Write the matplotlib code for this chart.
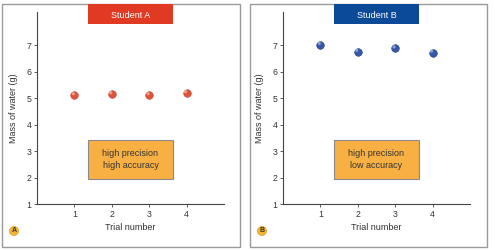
import matplotlib
matplotlib.use("Agg")
import matplotlib.pyplot as plt
from matplotlib.patches import Rectangle, Ellipse
from matplotlib.transforms import offset_copy

plt.rcParams['font.family'] = ['Liberation Sans', 'DejaVu Sans']

trials = [1, 2, 3, 4]
mass_a = [5.11, 5.15, 5.11, 5.19]
mass_b = [7.01, 6.75, 6.88, 6.72]
y_ticks = [1, 2, 3, 4, 5, 6, 7]
titles = ["Student A", "Student B"]
notes = ["high precision\nhigh accuracy", "high precision\nlow accuracy"]
letters = ["A", "B"]

W, H = 495, 250
fig = plt.figure(figsize=(W / 100, H / 100), dpi=100)
fig.patch.set_facecolor("white")

def fx(x):
    return x / W

def fy(y):
    return 1 - y / H

panels = [
    dict(box=(2, 4, 240, 247), ax=(37, 12, 224, 204), data=mass_a,
         color="#e0553a", edge="#c04028", hl="#f7b09a", tcolor="#e03a22"),
    dict(box=(250, 4, 487, 247), ax=(283, 12, 470, 204), data=mass_b,
         color="#3558a8", edge="#1e3a7a", hl="#9ab2e0", tcolor="#0b4a96"),
]

for i, p in enumerate(panels):
    x0, y0, x1, y1 = p["box"]
    fig.patches.append(Rectangle((fx(x0), fy(y1)), fx(x1 - x0), (y1 - y0) / H,
                                 transform=fig.transFigure, fill=False,
                                 edgecolor="#9a9a9a", lw=1.0, zorder=0))
    ax0, ay0, ax1, ay1 = p["ax"]
    ax = fig.add_axes([fx(ax0), fy(ay1), fx(ax1 - ax0), (ay1 - ay0) / H])
    ax.set_xlim(0, 5)
    ax.set_ylim(1, 8.25)
    ax.scatter(trials, p["data"], s=30, color=p["color"], edgecolors=p["edge"],
               linewidths=0.4, zorder=3)
    hl_tr = offset_copy(ax.transData, fig=fig, x=-0.8, y=1.0, units="points")
    ax.scatter(trials, p["data"], s=5, color=p["hl"], edgecolors="none",
               zorder=4, alpha=0.85, transform=hl_tr)
    ax.set_xticks(trials)
    ax.set_yticks(y_ticks)
    ax.tick_params(labelsize=6.3, length=2, width=0.6, color="#444444",
                   labelcolor="#333333", pad=2)
    for s in ["top", "right"]:
        ax.spines[s].set_visible(False)
    for s in ["left", "bottom"]:
        ax.spines[s].set_color("#444444")
        ax.spines[s].set_linewidth(0.8)
    ax.set_xlabel("Trial number", fontsize=6.5, color="#333333", labelpad=3)
    ax.set_ylabel("Mass of water (g)", fontsize=6.5, color="#333333", labelpad=6)
    ax.patch.set_alpha(0)

    # title box
    tx0 = ax0 + 51
    fig.patches.append(Rectangle((fx(tx0), fy(24)), fx(85), 20 / H,
                                 transform=fig.transFigure, facecolor=p["tcolor"],
                                 edgecolor="none", zorder=2))
    fig.text(fx(tx0 + 42.5), fy(15), titles[i], color="white", fontsize=6.5,
             ha="center", va="center")

    # note box
    fig.patches.append(Rectangle((fx(tx0), fy(179)), fx(85), 39 / H,
                                 transform=fig.transFigure, facecolor="#f9b043",
                                 edgecolor="#8a8a8a", lw=0.8, zorder=2))
    fig.text(fx(tx0 + 42.5), fy(159.5), notes[i], color="#333333", fontsize=6.5,
             ha="center", va="center", linespacing=1.4, zorder=3)

    # letter circle
    cx = x0 + 12
    fig.patches.append(Ellipse((fx(cx), fy(231)), 9 / W, 9 / H,
                               transform=fig.transFigure,
                               facecolor="#f5b731", edgecolor="#d99a20", lw=0.5,
                               zorder=2))
    fig.text(fx(cx), fy(231), letters[i], color="#333333", fontsize=5,
             fontweight="bold", ha="center", va="center", zorder=3)

fig.savefig("out.png", dpi=100)
